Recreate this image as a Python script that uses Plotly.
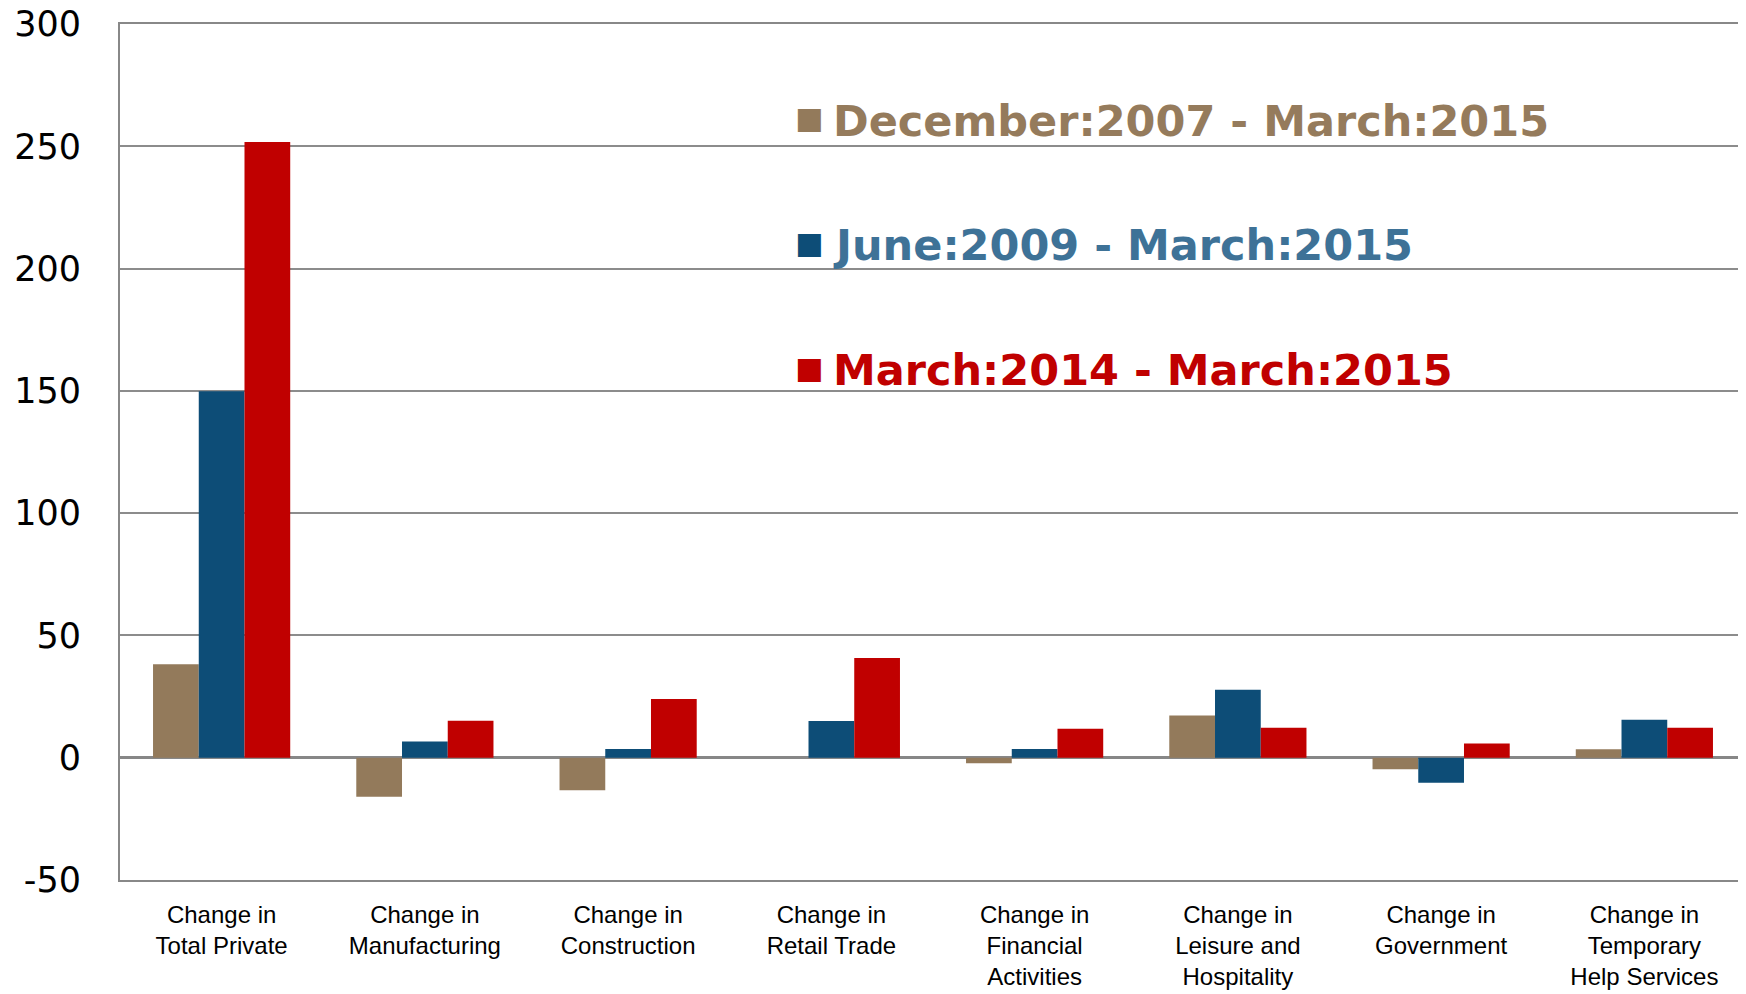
import plotly.graph_objects as go

categories = [
    "Change in<br>Total Private",
    "Change in<br>Manufacturing",
    "Change in<br>Construction",
    "Change in<br>Retail Trade",
    "Change in<br>Financial<br>Activities",
    "Change in<br>Leisure and<br>Hospitality",
    "Change in<br>Government",
    "Change in<br>Temporary<br>Help Services",
]

dec2007_mar2015 = [38.2, -16.0, -13.3, 0.0, -2.3, 17.3, -4.7, 3.5]
jun2009_mar2015 = [149.8, 6.6, 3.6, 15.0, 3.6, 27.8, -10.2, 15.5]
mar2014_mar2015 = [251.8, 15.1, 24.0, 40.8, 11.8, 12.3, 5.8, 12.3]

series_names = [
    "December:2007 - March:2015",
    "June:2009 - March:2015",
    "March:2014 - March:2015",
]
bar_colors = ["#937a5b", "#0d4d77", "#c00000"]
text_colors = ["#957b5c", "#3e7297", "#c00000"]
legend_y = [260.5, 209.5, 158.5]

y_ticks = [-50, 0, 50, 100, 150, 200, 250, 300]
y_ticklabels = ["-50", "0", "50", "100", "150", "200", "250", "300"]

fig = go.Figure()
for name, vals, col in zip(series_names,
                           [dec2007_mar2015, jun2009_mar2015, mar2014_mar2015],
                           bar_colors):
    fig.add_trace(go.Bar(x=categories, y=vals, name=name,
                         marker=dict(color=col, line=dict(width=0)),
                         showlegend=False))

# hand-made legend, like the original
for name, bc, tc, yy in zip(series_names, bar_colors, text_colors, legend_y):
    fig.add_annotation(
        xref="paper", yref="y", x=0.414, y=yy + 1.2, xanchor="left", yanchor="middle",
        showarrow=False, text="■",
        font=dict(family="DejaVu Sans", size=30, color=bc),
    )
    fig.add_annotation(
        xref="paper", yref="y", x=0.437, y=yy, xanchor="left", yanchor="middle",
        showarrow=False, text=f"<b>{name}</b>",
        font=dict(family="DejaVu Sans", size=43, color=tc),
    )

# the page body has an 8px margin, so the figure is sized to fill the rest
fig.update_layout(
    width=1738, height=986,
    margin=dict(l=112, r=0, t=16, b=114),
    plot_bgcolor="white", paper_bgcolor="white",
    barmode="group", bargap=0.325, bargroupgap=0,
    showlegend=False,
)
fig.update_xaxes(
    showgrid=False, showline=True, mirror=True, linecolor="#888888", linewidth=2,
    tickfont=dict(family="Liberation Sans", size=24, color="black"),
    ticklabelstandoff=12, tickangle=0, automargin=False,
)
fig.update_yaxes(
    range=[-50, 300], tickvals=y_ticks, ticktext=y_ticklabels,
    showgrid=True, gridcolor="#8c8c8c", gridwidth=1.5,
    zeroline=True, zerolinecolor="#878787", zerolinewidth=3,
    showline=True, linecolor="#888888", linewidth=2,
    tickfont=dict(family="DejaVu Sans", size=35, color="black"),
    ticklabelstandoff=30, automargin=False, ticklabeloverflow="allow",
)

fig.write_html("out.html")
